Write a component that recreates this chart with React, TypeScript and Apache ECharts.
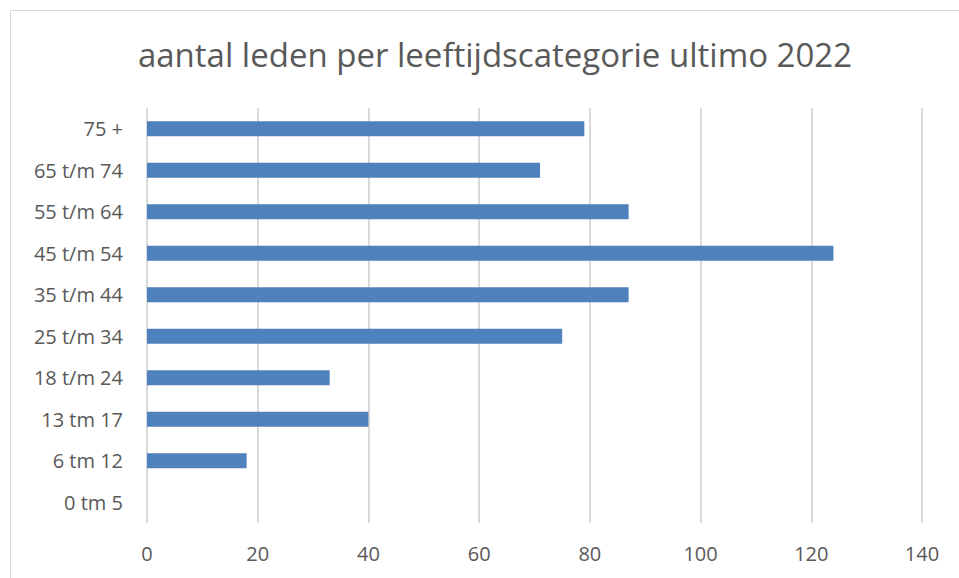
import React, { useEffect, useRef } from "react";
import * as echarts from "echarts";

const categories = ["0 tm 5", "6 tm 12", "13 tm 17", "18 t/m 24", "25 t/m 34", "35 t/m 44", "45 t/m 54", "55 t/m 64", "65 t/m 74", "75 +"];
const members = [0, 18, 40, 33, 75, 87, 124, 87, 71, 79];
const xTicks = { min: 0, max: 140, interval: 20 };
const title = "aantal leden per leeftijdscategorie ultimo 2022";

export default function App() {
  const ref = useRef<HTMLDivElement>(null);
  useEffect(() => {
    if (!ref.current) return;
    const chart = echarts.init(ref.current, null, { renderer: "svg" });
    const font = "'Open Sans', 'Noto Sans', sans-serif";
    chart.setOption({
      animation: false,
      backgroundColor: "#ffffff",
      title: {
        text: title,
        left: 490,
        textAlign: "center",
        top: 33,
        textStyle: { fontFamily: font, fontSize: 33, fontWeight: "normal", color: "#595959" },
      },
      graphic: [
        {
          type: "rect",
          shape: { x: 10.5, y: 10.5, width: 960, height: 580 },
          style: { fill: "none", stroke: "#d9d9d9", lineWidth: 1 },
          silent: true,
        },
      ],
      grid: { left: 147, right: 37, top: 108, bottom: 55, containLabel: false },
      xAxis: {
        type: "value",
        min: xTicks.min,
        max: xTicks.max,
        interval: xTicks.interval,
        axisLine: { show: false },
        axisTick: { show: false },
        axisLabel: { fontFamily: font, fontSize: 20, color: "#595959", margin: 20 },
        splitLine: { show: true, lineStyle: { color: "#d9d9d9", width: 2 } },
      },
      yAxis: {
        type: "category",
        data: categories,
        axisLine: { show: false },
        axisTick: { show: false },
        axisLabel: { fontFamily: font, fontSize: 20, color: "#595959", margin: 24 },
      },
      series: [
        {
          type: "bar",
          data: members,
          barWidth: 15,
          itemStyle: { color: "#4f81bd" },
        },
      ],
    });
    return () => chart.dispose();
  }, []);
  return (
    <div
      ref={ref}
      style={{ position: "fixed", left: 0, top: 0, width: 959, height: 578 }}
    />
  );
}
